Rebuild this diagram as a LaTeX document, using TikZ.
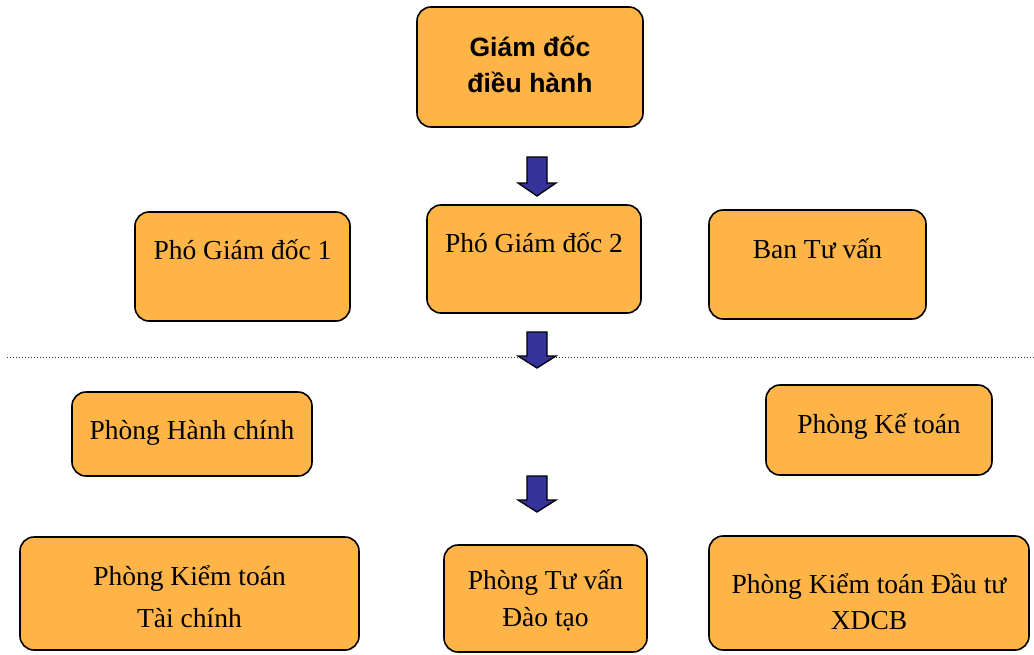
\documentclass[tikz,border=0pt]{standalone}
\usepackage{fontspec}
\setmainfont{Liberation Serif}
\newfontfamily\arialfont{Liberation Sans}
\definecolor{boxfill}{RGB}{255,180,72}
\definecolor{arrowblue}{RGB}{51,51,153}
\begin{document}
\begin{tikzpicture}[x=1pt,y=-1pt,
  orgbox/.style={draw=black,line width=1.6pt,fill=boxfill,rounded corners=14pt,inner sep=0pt},
  lbl/.style={inner sep=0pt,align=center,font=\fontsize{27.5}{42}\selectfont},
  toplbl/.style={inner sep=0pt,align=center,font=\arialfont\bfseries\fontsize{26.5}{36}\selectfont},
  blockarrow/.style={draw=black,line width=1.3pt,fill=arrowblue,line join=miter}]
\useasboundingbox (0,0) rectangle (1034,654);
% boxes
\node[orgbox,minimum width=226pt,minimum height=120pt] (gd) at (530,67) {};
\node[toplbl] (gdt) at (530,64) {Giám đốc\\điều hành};

\node[orgbox,minimum width=215pt,minimum height=109pt] (p1) at (242.5,266.5) {};
\node[lbl,anchor=base] (p1t) at (242.5,259) {Phó Giám đốc 1};

\node[orgbox,minimum width=214pt,minimum height=108pt] (p2) at (534,259) {};
\node[lbl,anchor=base] (p2t) at (534,252) {Phó Giám đốc 2};

\node[orgbox,minimum width=217pt,minimum height=109pt] (btv) at (817.5,264.5) {};
\node[lbl,anchor=base] (btvt) at (817.5,258) {Ban Tư vấn};

\node[orgbox,minimum width=240pt,minimum height=84pt] (phc) at (192,434) {};
\node[lbl,anchor=base] (phct) at (192,439) {Phòng Hành chính};

\node[orgbox,minimum width=226pt,minimum height=90pt] (pkt) at (879,430) {};
\node[lbl,anchor=base] (pktt) at (879,433) {Phòng Kế toán};

\node[orgbox,minimum width=339pt,minimum height=113pt] (pktc) at (189.5,593.5) {};
\node[lbl,anchor=base] (pktct1) at (189.5,585) {Phòng Kiểm toán};
\node[lbl,anchor=base] (pktct2) at (189.5,627) {Tài chính};

\node[orgbox,minimum width=203pt,minimum height=107pt] (ptv) at (545.5,598.5) {};
\node[lbl,anchor=base] (ptvt1) at (545.5,589) {Phòng Tư vấn};
\node[lbl,anchor=base] (ptvt2) at (545.5,626) {Đào tạo};

\node[orgbox,minimum width=320pt,minimum height=114pt] (pdt) at (869,593) {};
\node[lbl,anchor=base] (pdtt1) at (869,593) {Phòng Kiểm toán Đầu tư};
\node[lbl,anchor=base] (pdtt2) at (869,629) {XDCB};

% dotted separator
\coordinate (sepL) at (7,357);
\coordinate (sepR) at (1034,357);
\draw[dotted,line width=1pt,black!80] (sepL) -- (sepR);

% block arrows
\foreach \top/\hd/\tip in {157/183/196, 332/356/368, 476/500/512}{
  \draw[blockarrow] (527,\top) -- (547,\top) -- (547,\hd) -- (556,\hd) -- (537,\tip) -- (518,\hd) -- (527,\hd) -- cycle;
}
\end{tikzpicture}
\end{document}
